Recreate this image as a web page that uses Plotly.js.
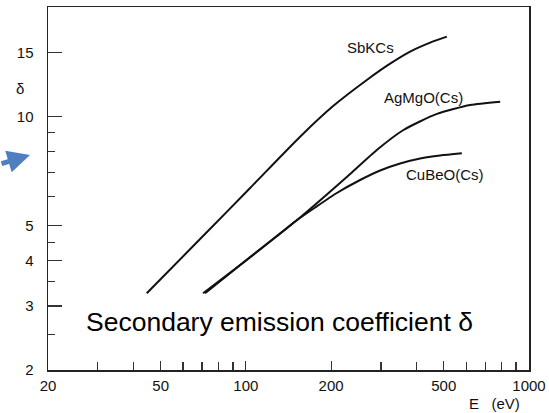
<!DOCTYPE html>
<html>
<head>
<meta charset="utf-8">
<script src="https://cdn.plot.ly/plotly-3.0.1.min.js"></script>
<style>html,body{margin:0;padding:0;background:#fff;}#chart{width:549px;height:413px;}</style>
</head>
<body>
<div id="chart"></div>
<script>
// Data (log-log axes)
const sbkcsE = [44.65, 68.9, 103.5, 155.4, 203.3, 267.4, 323.2, 380.4, 447.6, 512.7];
const sbkcsD = [3.253, 4.59, 6.345, 8.785, 10.67, 12.59, 13.96, 15.07, 15.95, 16.57];

const agmgoE = [71.77, 95.36, 128.6, 155.4, 190.5, 233.5, 290.0, 360.1, 472.7, 619.7, 791.1];
const agmgoD = [3.253, 3.886, 4.670, 5.262, 6.031, 6.934, 8.074, 9.167, 10.15, 10.74, 10.97];

const cubeoE = [70.6, 95.36, 128.6, 149.2, 175.6, 209.5, 253.2, 298.0, 350.6, 412.6, 485.7, 579.3];
const cubeoD = [3.253, 3.894, 4.679, 5.131, 5.607, 6.147, 6.675, 7.090, 7.412, 7.650, 7.797, 7.907];

const seriesNames = ["SbKCs", "AgMgO(Cs)", "CuBeO(Cs)"];

const xTickVals = [20, 50, 100, 200, 500, 1000];
const xTickText = ["20", "50", "100", "200", "500", "1000"];
const xMinorVals = [30, 40, 60, 70, 80, 90, 300, 400, 600, 700, 800, 900];

const yTickVals = [2, 3, 4, 5, 10, 15];
const yTickText = ["2", "3", "4", "5", "10", "15"];
const yMinorVals = [2.5, 3.5, 4.5, 6, 7, 8, 9];

const FONT = "Liberation Sans, Arial, sans-serif";
const lineStyle = {color: "#111", width: 2, shape: "spline", smoothing: 0.6};

const traces = [
  {x: sbkcsE, y: sbkcsD, name: seriesNames[0], mode: "lines", line: lineStyle},
  {x: agmgoE, y: agmgoD, name: seriesNames[1], mode: "lines", line: lineStyle},
  {x: cubeoE, y: cubeoD, name: seriesNames[2], mode: "lines", line: lineStyle}
];

const labelFont = {family: FONT, size: 15, color: "#111"};

const layout = {
  width: 549, height: 413,
  margin: {l: 48, r: 20, t: 7, b: 43},
  paper_bgcolor: "#fff", plot_bgcolor: "#fff",
  showlegend: false,
  font: {family: FONT, size: 15, color: "#111"},
  xaxis: {
    type: "log", range: [Math.log10(20), Math.log10(1000)],
    tickmode: "array", tickvals: xTickVals, ticktext: xTickText,
    ticks: "inside", ticklen: 9, tickwidth: 1.2, tickcolor: "#333",
    minor: {tickmode: "array", tickvals: xMinorVals, ticks: "inside", ticklen: 8, tickwidth: 1.2, tickcolor: "#333", showgrid: false},
    showgrid: false, zeroline: false,
    showline: true, linecolor: "#222", linewidth: 1.5, mirror: true,
    tickfont: labelFont,
    ticklabelstandoff: 1
  },
  yaxis: {
    type: "log", range: [Math.log10(2), Math.log10(20)],
    tickmode: "array", tickvals: yTickVals, ticktext: yTickText,
    ticks: "inside", ticklen: 14, tickwidth: 1.2, tickcolor: "#333",
    minor: {tickmode: "array", tickvals: yMinorVals, ticks: "inside", ticklen: 7, tickwidth: 1.2, tickcolor: "#333", showgrid: false},
    showgrid: false, zeroline: false,
    showline: true, linecolor: "#222", linewidth: 1.5, mirror: true,
    tickfont: labelFont,
    ticklabelstandoff: 10
  },
  annotations: [
    {text: seriesNames[0], xref: "paper", yref: "paper", x: 0.671, y: 0.889, xanchor: "center", yanchor: "middle", showarrow: false, font: labelFont},
    {text: seriesNames[1], xref: "paper", yref: "paper", x: 0.781, y: 0.750, xanchor: "center", yanchor: "middle", showarrow: false, font: labelFont},
    {text: seriesNames[2], xref: "paper", yref: "paper", x: 0.825, y: 0.538, xanchor: "center", yanchor: "middle", showarrow: false, font: labelFont},
    {text: "Secondary emission coefficient δ", xref: "paper", yref: "paper", x: 0.482, y: 0.133, xanchor: "center", yanchor: "middle", showarrow: false, font: {family: FONT, size: 26.5, color: "#000"}},
    {text: "δ", xref: "paper", yref: "paper", x: -0.0576, y: 0.776, xanchor: "center", yanchor: "middle", showarrow: false, font: labelFont},
    {text: "E   (eV)", xref: "paper", yref: "paper", x: 0.929, y: -0.1185, xanchor: "center", yanchor: "bottom", borderpad: 0, showarrow: false, font: labelFont},
    {text: "", xref: "paper", yref: "paper", x: -0.0374, y: 0.592, ax: -34, ay: 9, showarrow: true, arrowhead: 2, arrowsize: 0.9, arrowwidth: 5, arrowcolor: "#4f7fc0"}
  ]
};

Plotly.newPlot("chart", traces, layout, {displayModeBar: false, staticPlot: true});
</script>
</body>
</html>
